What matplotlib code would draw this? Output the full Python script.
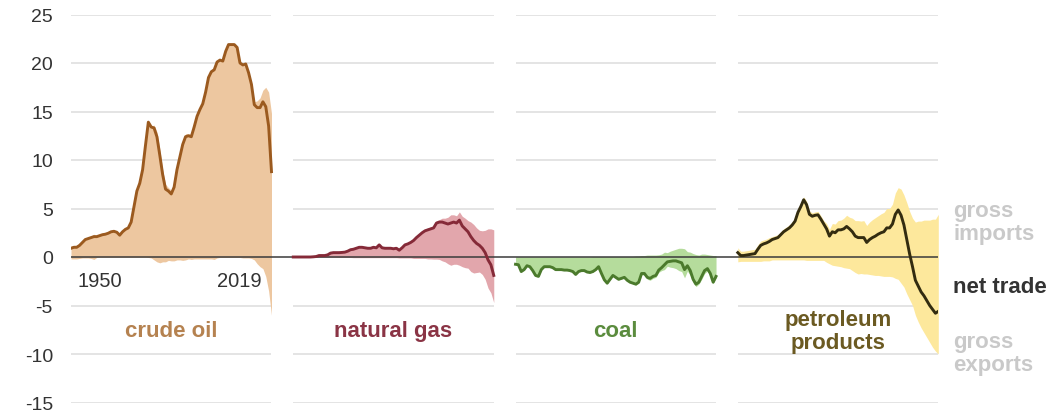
import numpy as np
import matplotlib
matplotlib.use('Agg')
import matplotlib.pyplot as plt

plt.rcParams['font.family'] = ['Liberation Sans', 'DejaVu Sans']

# years shown in every panel
years = np.arange(1949, 2020)

# crude oil: net trade and gross exports (exports negative)
crude_net = [0.9, 1.0, 1.0, 1.2, 1.5, 1.8, 1.9, 2.0, 2.1, 2.1,
             2.2, 2.3, 2.35, 2.45, 2.6, 2.65, 2.55, 2.25, 2.6, 2.85,
             3.0, 3.6, 5.2, 6.8, 7.6, 9.0, 11.5, 13.9, 13.4, 13.3,
             12.4, 10.5, 8.5, 7.0, 6.8, 6.5, 7.2, 9.0, 10.3, 11.6,
             12.4, 12.5, 12.4, 13.4, 14.5, 15.2, 15.8, 17.0, 18.5, 19.1,
             19.3, 20.1, 20.3, 20.2, 21.2, 21.9, 21.9, 21.9, 21.6, 20.0,
             19.8, 19.9, 19.0, 17.8, 15.7, 15.4, 15.4, 16.0, 15.5, 13.5,
             8.8]
crude_exp = [-0.2, -0.2, -0.2, -0.15, -0.1, -0.1, -0.1, -0.15, -0.25, -0.05,
             -0.02, -0.02, -0.02, -0.02, -0.02, -0.02, -0.02, -0.02, -0.02, -0.02,
             -0.02, -0.02, -0.02, -0.02, -0.02, -0.02, -0.02, -0.05, -0.1, -0.3,
             -0.5, -0.6, -0.5, -0.5, -0.35, -0.4, -0.4, -0.3, -0.3, -0.35,
             -0.3, -0.2, -0.25, -0.2, -0.2, -0.2, -0.2, -0.2, -0.2, -0.2,
             -0.25, -0.1, -0.05, -0.05, -0.05, -0.05, -0.05, -0.05, -0.05, -0.05,
             -0.1, -0.1, -0.1, -0.15, -0.3, -0.7, -1.0, -1.2, -2.0, -3.5,
             -6.0]

# natural gas: net trade and gross exports
gas_net = [0.0, 0.0, 0.0, 0.0, 0.0, 0.0, 0.0, 0.02, 0.05, 0.15,
           0.15, 0.15, 0.22, 0.4, 0.45, 0.45, 0.45, 0.47, 0.5, 0.6,
           0.75, 0.8, 0.9, 1.0, 1.0, 0.95, 0.9, 0.9, 1.0, 0.95,
           1.25, 0.95, 0.9, 0.9, 0.9, 0.85, 0.9, 0.7, 0.95, 1.25,
           1.35, 1.5, 1.7, 2.0, 2.25, 2.5, 2.7, 2.8, 2.9, 3.0,
           3.5, 3.6, 3.6, 3.5, 3.4, 3.5, 3.6, 3.5, 3.8, 3.2,
           2.9, 2.6, 2.1, 1.7, 1.4, 1.2, 0.9, 0.45, -0.3, -0.8,
           -1.9]
gas_exp = [-0.02, -0.02, -0.02, -0.02, -0.03, -0.03, -0.03, -0.03, -0.03, -0.03,
           -0.03, -0.03, -0.04, -0.04, -0.04, -0.04, -0.05, -0.05, -0.05, -0.05,
           -0.05, -0.07, -0.07, -0.07, -0.07, -0.07, -0.07, -0.07, -0.07, -0.07,
           -0.07, -0.07, -0.07, -0.07, -0.07, -0.07, -0.07, -0.1, -0.1, -0.1,
           -0.1, -0.1, -0.15, -0.15, -0.15, -0.15, -0.15, -0.2, -0.2, -0.22,
           -0.22, -0.25, -0.4, -0.5, -0.7, -0.85, -0.75, -0.75, -0.85, -1.0,
           -1.1, -1.15, -1.5, -1.65, -1.6, -1.55, -1.8, -2.3, -3.2, -3.7,
           -4.7]

# coal: net trade and gross imports
coal_net = [-0.75, -0.8, -1.5, -1.3, -0.9, -1.0, -1.4, -1.9, -2.0, -1.3,
            -1.0, -1.0, -1.0, -1.1, -1.3, -1.3, -1.3, -1.35, -1.35, -1.4,
            -1.5, -1.8, -1.5, -1.4, -1.4, -1.55, -1.6, -1.5, -1.3, -1.0,
            -1.7, -2.35, -2.7, -2.3, -1.9, -2.1, -2.3, -2.2, -2.1, -2.4,
            -2.6, -2.7, -2.8, -2.6, -1.7, -1.7, -2.1, -2.2, -2.0, -1.9,
            -1.35, -1.1, -0.8, -0.5, -0.45, -0.4, -0.4, -0.5, -0.6, -1.3,
            -0.9, -1.4, -2.3, -2.8, -2.6, -2.0, -1.4, -1.2, -1.7, -2.6,
            -2.0]
coal_imp = [0.02, 0.02, 0.02, 0.02, 0.02, 0.02, 0.02, 0.02, 0.02, 0.02,
            0.02, 0.02, 0.02, 0.02, 0.02, 0.02, 0.02, 0.02, 0.02, 0.02,
            0.02, 0.02, 0.02, 0.02, 0.02, 0.02, 0.02, 0.05, 0.05, 0.05,
            0.05, 0.05, 0.05, 0.05, 0.05, 0.05, 0.05, 0.05, 0.05, 0.05,
            0.05, 0.05, 0.1, 0.1, 0.15, 0.15, 0.2, 0.2, 0.2, 0.2,
            0.23, 0.3, 0.5, 0.45, 0.6, 0.7, 0.8, 0.9, 0.9, 0.85,
            0.55, 0.5, 0.35, 0.25, 0.2, 0.3, 0.3, 0.25, 0.2, 0.15,
            0.15]

# petroleum products: net trade and gross exports
petro_net = [0.45, 0.15, 0.15, 0.2, 0.25, 0.3, 0.35, 0.8, 1.2, 1.35,
             1.45, 1.6, 1.8, 1.9, 2.0, 2.3, 2.6, 2.8, 3.0, 3.3,
             3.7, 4.6, 5.2, 5.9, 5.4, 4.4, 4.2, 4.3, 4.35, 3.9,
             3.4, 2.9, 2.15, 2.6, 2.5, 2.8, 2.8, 2.9, 3.15, 2.9,
             2.6, 2.15, 2.0, 2.0, 2.0, 1.5, 1.8, 2.0, 2.15, 2.35,
             2.5, 2.6, 3.0, 3.0, 3.4, 4.4, 4.85, 4.3, 3.3, 1.8,
             0.3, -1.0, -2.4, -3.0, -3.6, -4.0, -4.5, -5.0, -5.4, -5.8,
             -5.6]
petro_exp = [-0.5, -0.45, -0.45, -0.45, -0.45, -0.45, -0.45, -0.45, -0.45, -0.4,
             -0.4, -0.4, -0.3, -0.3, -0.3, -0.3, -0.3, -0.3, -0.3, -0.3,
             -0.3, -0.3, -0.3, -0.3, -0.35, -0.35, -0.35, -0.35, -0.35, -0.35,
             -0.35, -0.55, -0.7, -0.85, -0.9, -0.95, -1.0, -1.1, -1.15, -1.2,
             -1.4, -1.6, -1.75, -1.7, -1.75, -1.75, -1.8, -1.85, -1.9, -1.9,
             -1.95, -2.0, -2.0, -2.0, -2.05, -2.2, -2.3, -2.7, -3.1, -3.8,
             -4.4, -5.0, -6.0, -6.7, -7.3, -7.8, -8.3, -8.8, -9.3, -9.7,
             -10.0]

names = ['crude oil', 'natural gas', 'coal', 'petroleum\nproducts']
fill_colors = ['#edc7a0', '#e2a6ac', '#b5dc9c', '#fde89c']
line_colors = ['#9b5a1f', '#852a38', '#4b7a2c', '#332c10']
label_colors = ['#b58250', '#8a3445', '#5b8c3e', '#6b5a22']

crude_imp = np.array(crude_net) - np.array(crude_exp)
gas_imp = np.array(gas_net) - np.array(gas_exp)
coal_exp = np.array(coal_net) - np.array(coal_imp)
petro_imp = np.array(petro_net) - np.array(petro_exp)

imports = [crude_imp, gas_imp, np.array(coal_imp), petro_imp]
exports = [np.array(crude_exp), np.array(gas_exp), coal_exp, np.array(petro_exp)]
nets = [np.array(crude_net), np.array(gas_net), np.array(coal_net), np.array(petro_net)]

panel_gap = 77.6
span = years[-1] - years[0]

fig = plt.figure(figsize=(10.58, 4.14), dpi=100)
ax = fig.add_axes([71 / 1058, 10.5 / 414, 867.3 / 1058, 388 / 414])

for i in range(4):
    x0 = i * panel_gap
    xs = years - years[0] + x0
    # gridlines for this panel
    for g in [-15, -10, -5, 5, 10, 15, 20, 25]:
        ax.plot([x0, x0 + span], [g, g], color='#e4e4e4', lw=1.4, zorder=1,
                solid_capstyle='butt')
    ax.fill_between(xs, exports[i], imports[i], color=fill_colors[i],
                    lw=0, zorder=2)
    ax.plot(xs, nets[i], color=line_colors[i], lw=2.1, zorder=4,
            solid_joinstyle='round')
    ax.text(x0 + span / 2, -7.6, names[i], ha='center', va='center',
            fontsize=16, fontweight='bold', color=label_colors[i],
            linespacing=1.15)

ax.plot([0, 3 * panel_gap + span], [0, 0], color='#3a3a3a', lw=1.1, zorder=3)

ax.text(2.1, -2.4, '1950', ha='left', va='center', fontsize=14.5, color='#333333')
ax.text(66.7, -2.4, '2019', ha='right', va='center', fontsize=14.5, color='#333333')

xr = 3 * panel_gap + span + 5.2
ax.text(xr, 3.6, 'gross\nimports', ha='left', va='center', fontsize=16,
        fontweight='bold', color='#c9c9c9', linespacing=1.15, clip_on=False)
ax.text(xr, -3.0, 'net trade', ha='left', va='center', fontsize=16,
        fontweight='bold', color='#333333', clip_on=False)
ax.text(xr, -9.9, 'gross\nexports', ha='left', va='center', fontsize=16,
        fontweight='bold', color='#c9c9c9', linespacing=1.15, clip_on=False)

ax.set_xlim(0, 3 * panel_gap + span)
ax.set_ylim(-15, 25)
ax.set_yticks(range(-15, 30, 5))
ax.set_yticklabels([str(v) for v in range(-15, 30, 5)])
ax.tick_params(axis='y', length=0, pad=13, labelsize=14, labelcolor='#333333')
ax.set_xticks([])
for s in ax.spines.values():
    s.set_visible(False)

plt.savefig('out.png', dpi=100)
